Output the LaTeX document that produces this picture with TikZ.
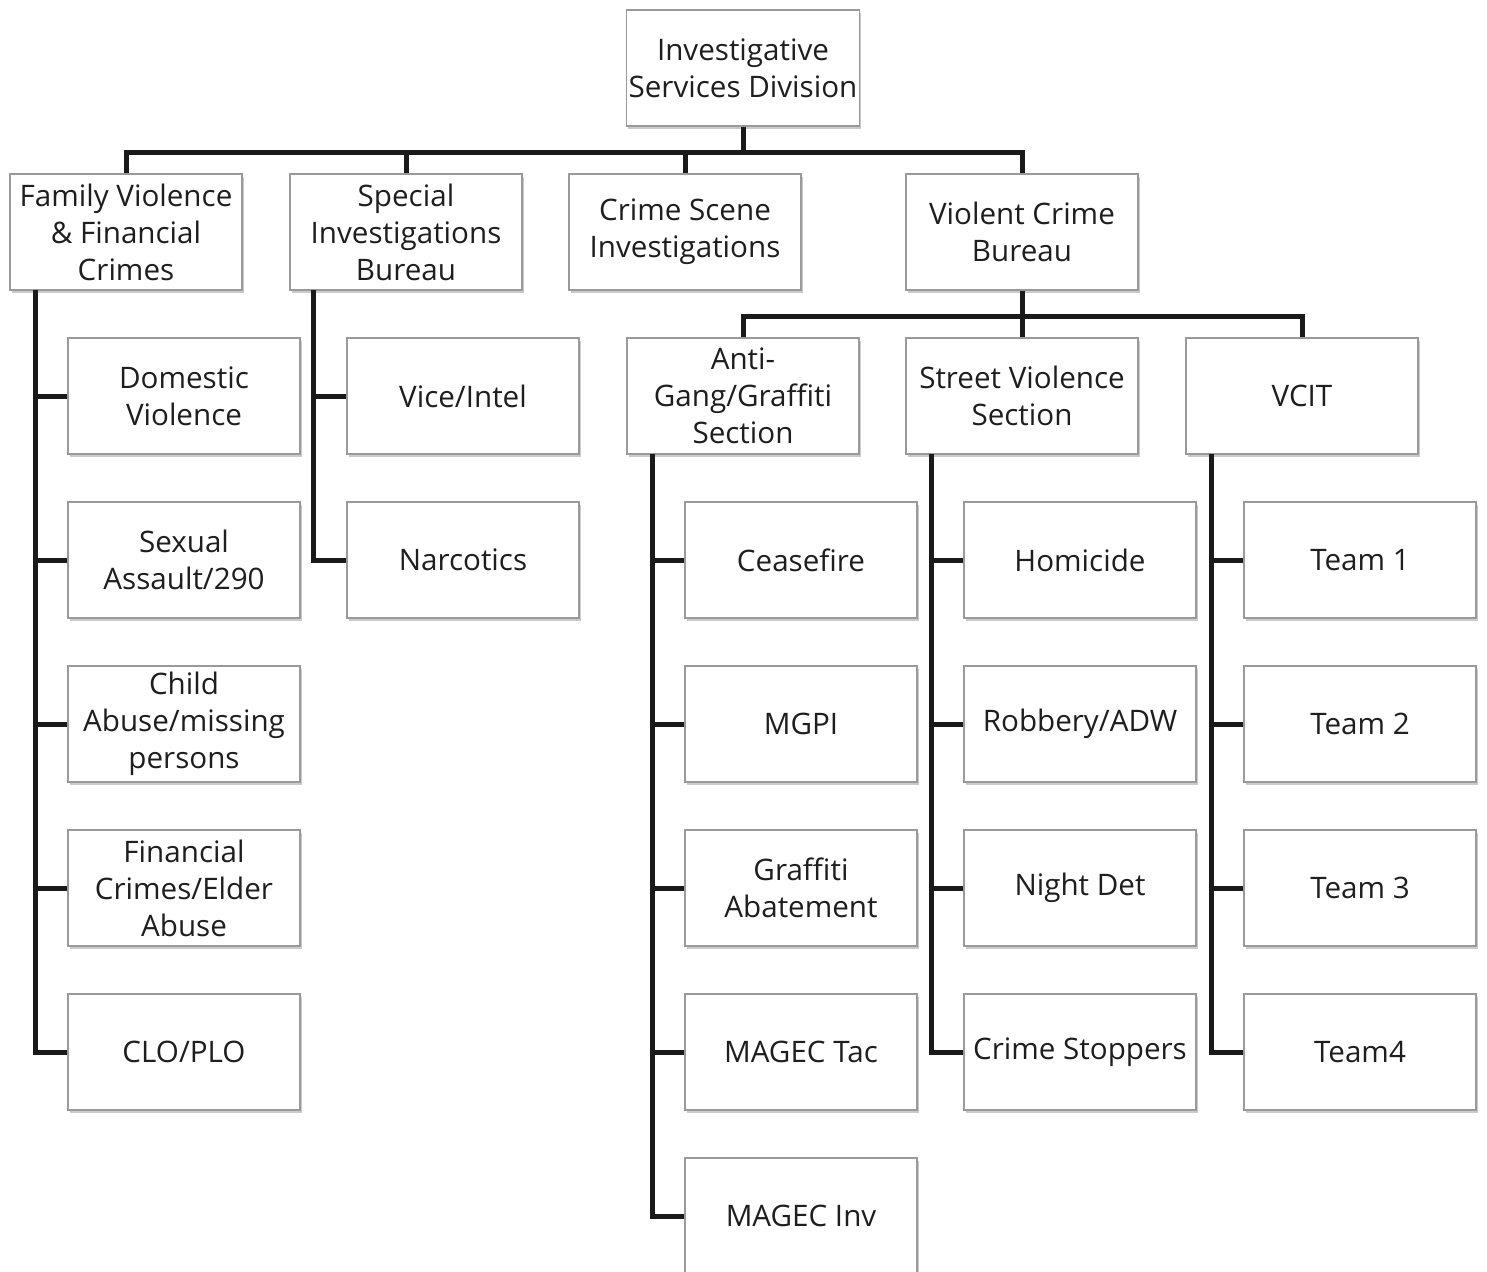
\documentclass[tikz,border=0pt]{standalone}
\usepackage{fontspec}
\setmainfont{Open Sans}
\usetikzlibrary{shadows}
\definecolor{boxline}{HTML}{9A9A9A}
\definecolor{conn}{HTML}{1A1A1A}
\definecolor{txt}{HTML}{1E1E1E}
\tikzset{
  orgbox/.style={draw=boxline, line width=1.6pt, fill=white, minimum width=232pt, minimum height=116pt,
    align=center, inner sep=2pt, text=txt, font=\fontsize{29.6}{37}\selectfont,
    drop shadow={shadow xshift=1.5pt, shadow yshift=-3pt, opacity=0.35, fill=black!60}},
  link/.style={draw=conn, line width=5pt}
}
\begin{document}
\begin{tikzpicture}[x=1pt,y=-1pt]
\useasboundingbox (0,0) rectangle (1487,1271);
% top
\node[orgbox] (top) at (743,68) {Investigative\\Services Division};
% level 1
\node[orgbox] (fv) at (126,232) {Family Violence\\\& Financial\\Crimes};
\node[orgbox] (si) at (406,232) {Special\\Investigations\\Bureau};
\node[orgbox] (cs) at (685,232) {Crime Scene\\Investigations};
\node[orgbox] (vcb) at (1022,232) {Violent Crime\\Bureau};
% left children
\node[orgbox] (fv1) at (184,396) {Domestic\\Violence};
\node[orgbox] (fv2) at (184,560) {Sexual\\Assault/290};
\node[orgbox] (fv3) at (184,724) {Child\\Abuse/missing\\persons};
\node[orgbox] (fv4) at (184,888) {Financial\\Crimes/Elder\\Abuse};
\node[orgbox] (fv5) at (184,1052) {CLO/PLO};
% special children
\node[orgbox] (si1) at (463,396) {Vice/Intel};
\node[orgbox] (si2) at (463,560) {Narcotics};
% level 2
\node[orgbox] (ag) at (743,396) {Anti-\\Gang/Graffiti\\Section};
\node[orgbox] (sv) at (1022,396) {Street Violence\\Section};
\node[orgbox] (vc) at (1302,396) {VCIT};
% anti-gang children
\node[orgbox] (ag1) at (801,560) {Ceasefire};
\node[orgbox] (ag2) at (801,724) {MGPI};
\node[orgbox] (ag3) at (801,888) {Graffiti\\Abatement};
\node[orgbox] (ag4) at (801,1052) {MAGEC Tac};
\node[orgbox] (ag5) at (801,1216) {MAGEC Inv};
% street violence children
\node[orgbox] (sv1) at (1080,560) {Homicide};
\node[orgbox] (sv2) at (1080,724) {Robbery/ADW};
\node[orgbox] (sv3) at (1080,888) {Night Det};
\node[orgbox] (sv4) at (1080,1052) {Crime Stoppers};
% VCIT children
\node[orgbox] (vc1) at (1360,560) {Team 1};
\node[orgbox] (vc2) at (1360,724) {Team 2};
\node[orgbox] (vc3) at (1360,888) {Team 3};
\node[orgbox] (vc4) at (1360,1052) {Team4};

% bus coordinates
\coordinate (bus1) at (743,152);
\coordinate (bus2) at (1022,316);
\coordinate (fvsp) at (35,290);
\coordinate (sisp) at (313,290);
\coordinate (agsp) at (652,454);
\coordinate (svsp) at (931,454);
\coordinate (vcsp) at (1211,454);

% level 1 connectors
\draw[link] (top.south) -- (bus1);
\draw[link] (fv.north) |- (vcb.north |- bus1) -- (vcb.north);
\draw[link] (si.north) -- (si.north |- bus1);
\draw[link] (cs.north) -- (cs.north |- bus1);
% level 2 connectors
\draw[link] (vcb.south) -- (bus2);
\draw[link] (ag.north) |- (vc.north |- bus2) -- (vc.north);
\draw[link] (sv.north) -- (sv.north |- bus2);
% spines
\draw[link] (fvsp) |- (fv5.west);
\foreach \c in {fv1,fv2,fv3,fv4} \draw[link] (\c.west) -- (\c.west -| fvsp);
\draw[link] (sisp) |- (si2.west);
\draw[link] (si1.west) -- (si1.west -| sisp);
\draw[link] (agsp) |- (ag5.west);
\foreach \c in {ag1,ag2,ag3,ag4} \draw[link] (\c.west) -- (\c.west -| agsp);
\draw[link] (svsp) |- (sv4.west);
\foreach \c in {sv1,sv2,sv3} \draw[link] (\c.west) -- (\c.west -| svsp);
\draw[link] (vcsp) |- (vc4.west);
\foreach \c in {vc1,vc2,vc3} \draw[link] (\c.west) -- (\c.west -| vcsp);
\end{tikzpicture}
\end{document}
